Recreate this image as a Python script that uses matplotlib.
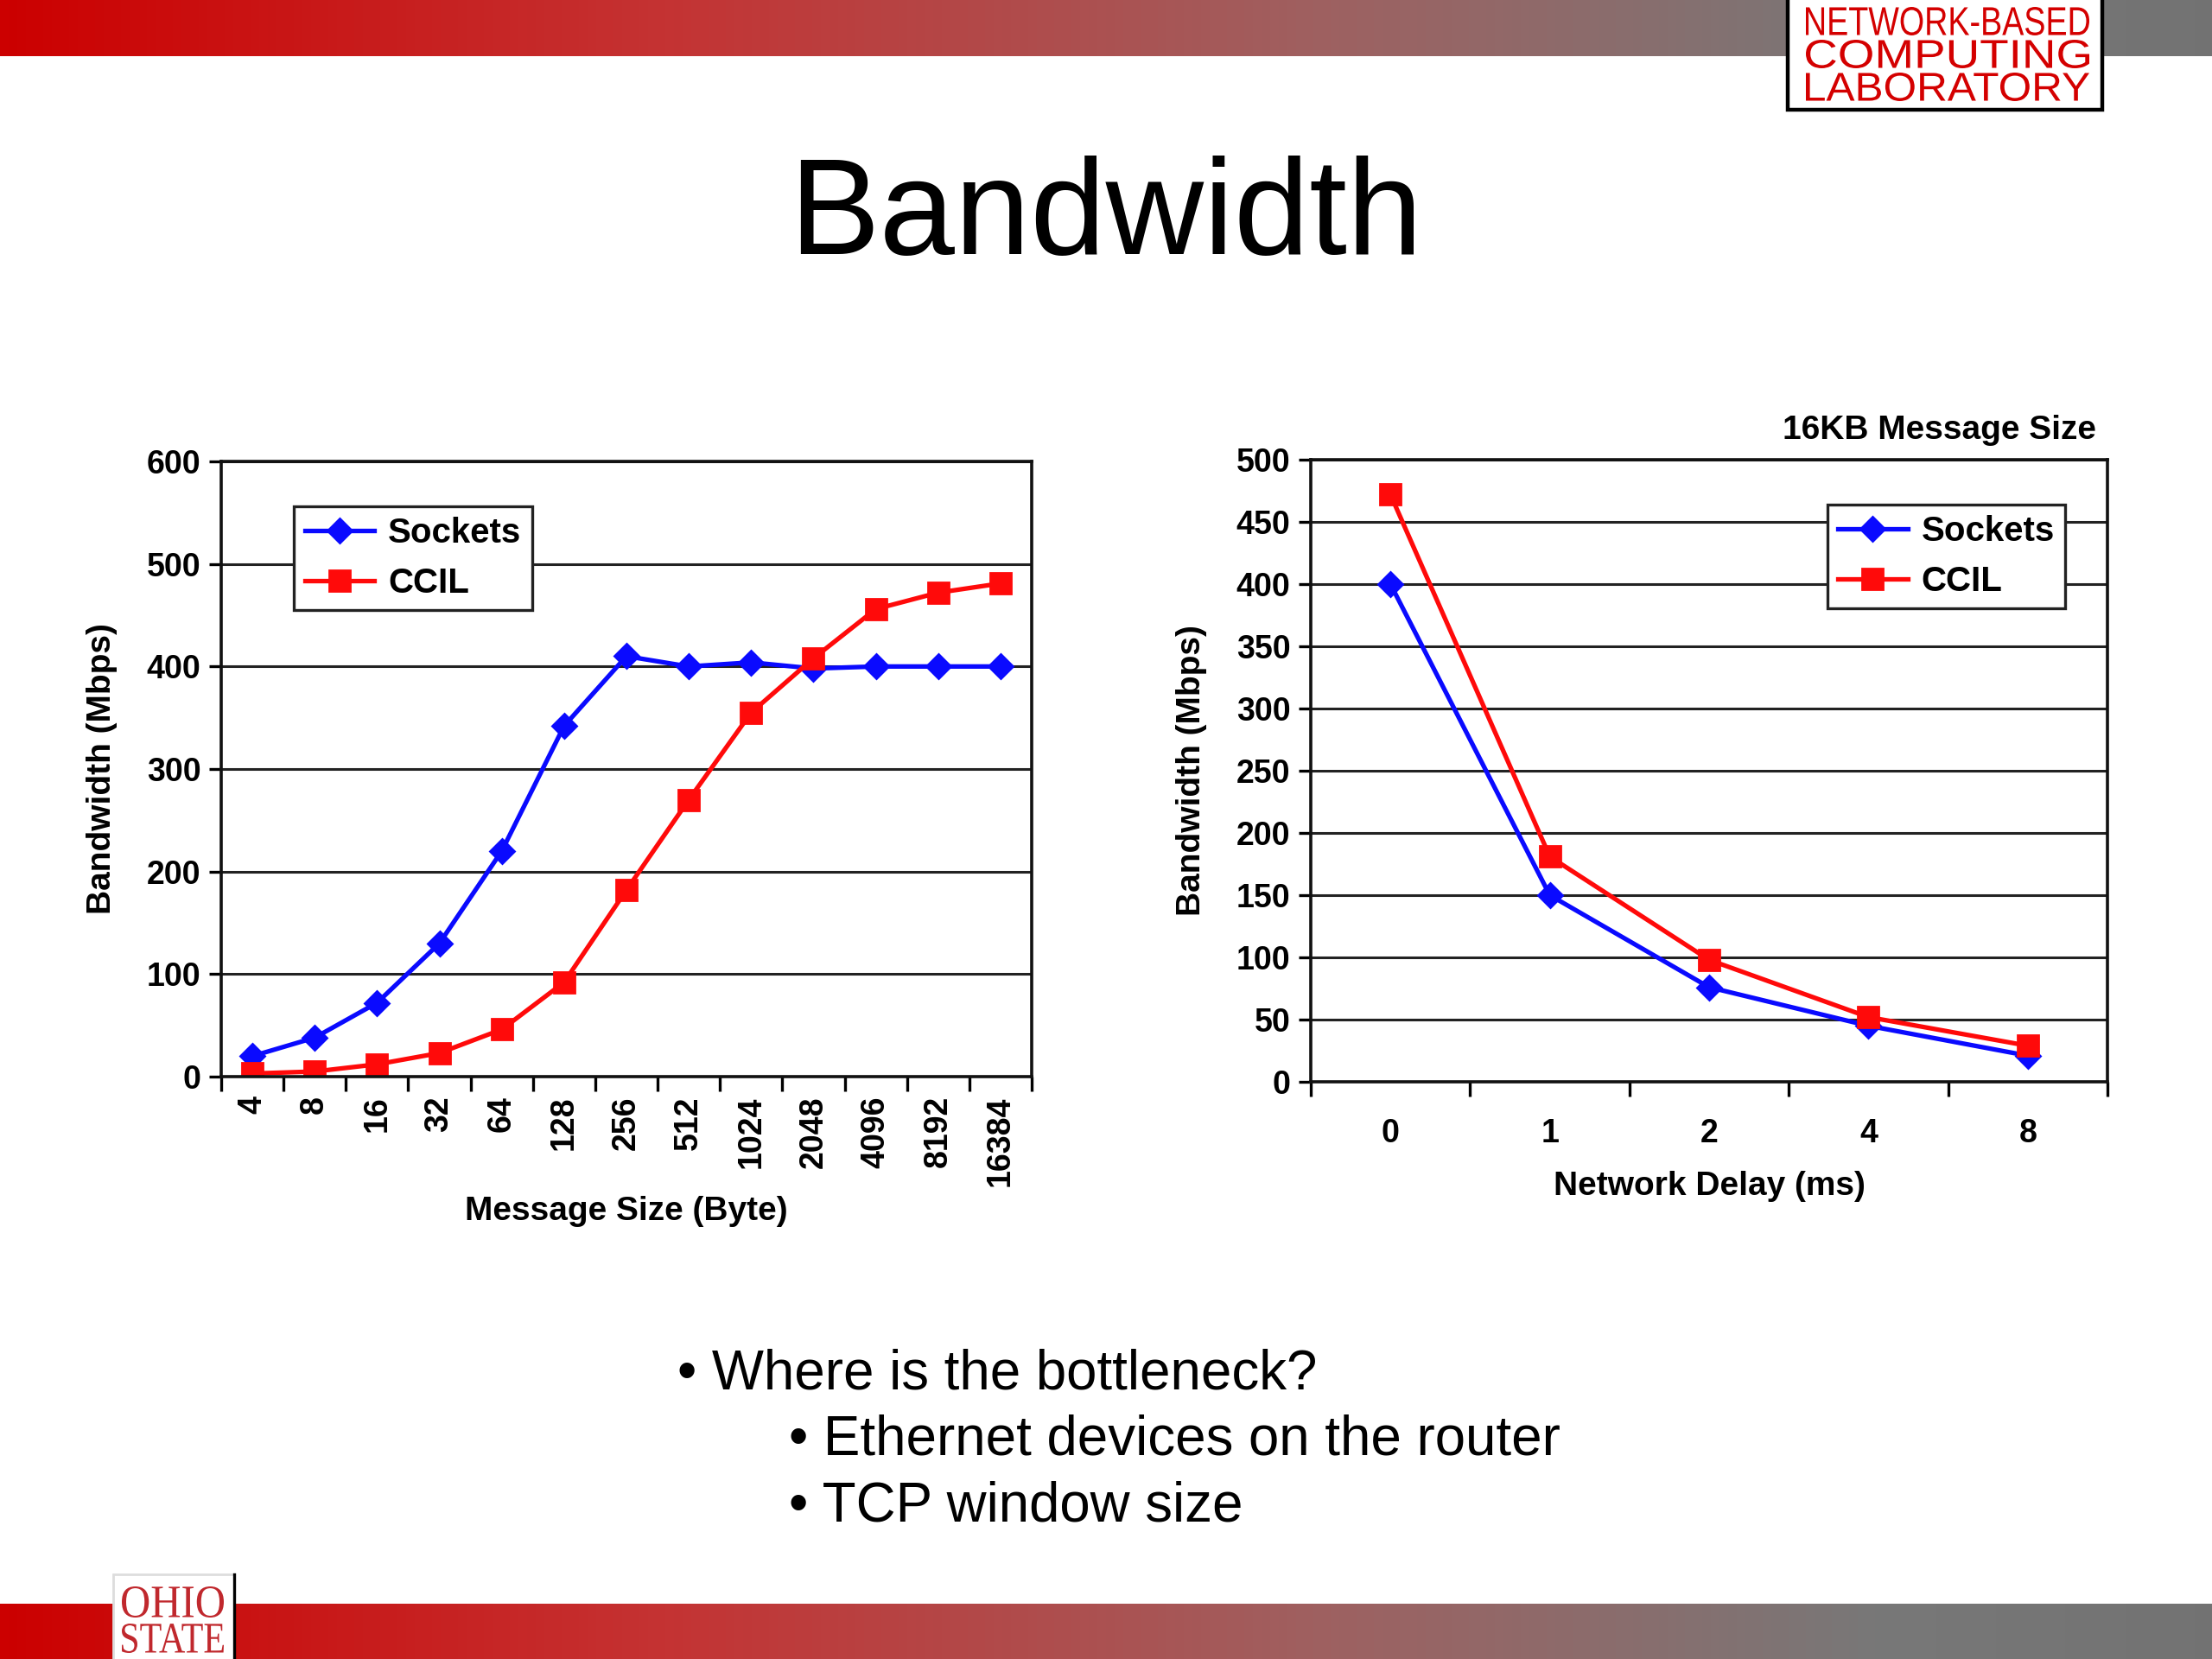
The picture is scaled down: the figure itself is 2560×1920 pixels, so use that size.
import numpy as np
import matplotlib
matplotlib.use("Agg")
import matplotlib.pyplot as plt
from matplotlib.colors import LinearSegmentedColormap
from matplotlib.patches import Rectangle, PathPatch
from matplotlib.textpath import TextPath
from matplotlib.font_manager import FontProperties
from matplotlib.transforms import Affine2D

plt.rcParams['font.family'] = ['Liberation Sans', 'DejaVu Sans']

# Data: left chart (bandwidth vs message size)
msg_sizes = ["4", "8", "16", "32", "64", "128", "256", "512", "1024", "2048", "4096", "8192", "16384"]
sockets_bw = [20, 38, 72, 130, 220, 342, 410, 400, 404, 398, 400, 400, 400]
ccil_bw = [3, 5, 12, 23, 46, 92, 182, 270, 355, 408, 456, 472, 481]

# Data: right chart (bandwidth vs network delay, 16KB messages)
delays = ["0", "1", "2", "4", "8"]
sockets_delay = [400, 150, 76, 45, 21]
ccil_delay = [472, 181, 98, 52, 29]

BLUE = "#0a0aff"
RED = "#ff0a0a"
W, H = 2560, 1920

fig = plt.figure(figsize=(12.8, 9.6), dpi=200)

# slide decorations: gradient bars
grad = LinearSegmentedColormap.from_list(
    "bar", [(0.0, (0.80, 0.0, 0.0)), (0.3, (0.77, 0.20, 0.20)),
            (0.6, (0.62, 0.38, 0.38)), (0.85, (0.47, 0.47, 0.47)), (1.0, (0.45, 0.45, 0.45))])
g = np.linspace(0, 1, 512).reshape(1, -1)
top = fig.add_axes([0, 1 - 65 / H, 1, 65 / H])
top.imshow(g, aspect="auto", cmap=grad)
top.axis("off")
bot = fig.add_axes([0, 0, 1, 64 / H])
bot.imshow(g, aspect="auto", cmap=grad)
bot.axis("off")

# overlay axes in pixel coords for the logos
deco = fig.add_axes([0, 0, 1, 1], zorder=5)
deco.set_xlim(0, W)
deco.set_ylim(H, 0)
deco.axis("off")


def fitted_text(ax, s, x0, y0, x1, y1, color, family):
    # draw text stretched into the box (x0, y0)-(x1, y1), pixel coords, y down
    tp = TextPath((0, 0), s, size=1, prop=FontProperties(family=family))
    ext = tp.get_extents()
    tr = (Affine2D().translate(-ext.x0, -ext.y0)
          .scale((x1 - x0) / ext.width, -(y1 - y0) / ext.height)
          .translate(x0, y1))
    ax.add_patch(PathPatch(tr.transform_path(tp), facecolor=color, edgecolor="none", zorder=7))


deco.add_patch(Rectangle((2069, -5), 364, 132, facecolor="white", edgecolor="black",
                         linewidth=1.6, zorder=6))
lab_lines = ["NETWORK-BASED", "COMPUTING", "LABORATORY"]
for i, line in enumerate(lab_lines):
    yt = 8 + i * 38
    fitted_text(deco, line, 2090, yt, 2418, yt + 33, "#d40000", "Liberation Sans")

deco.add_patch(Rectangle((131, 1822), 140, 110, facecolor="white", edgecolor="#dddddd",
                         linewidth=1, zorder=6))
deco.plot([271, 271], [1822, 1920], color="black", lw=1.2, zorder=6)
fitted_text(deco, "OHIO", 141, 1836, 259, 1872, "#c0282d", "Liberation Serif")
fitted_text(deco, "STATE", 141, 1879, 259, 1913, "#c0282d", "Liberation Serif")

fig.text(0.5, 1 - 253 / H, "Bandwidth", ha="center", va="center", fontsize=56.5)

# bullets
s = 2560 / 1568
fig.text(480 * s / W, 1 - 974 * s / H, "\u2022 Where is the bottleneck?",
         ha="left", va="center", fontsize=22.9)
fig.text(559 * s / W, 1 - 1021 * s / H, "\u2022 Ethernet devices on the router",
         ha="left", va="center", fontsize=22.9)
fig.text(559 * s / W, 1 - 1068 * s / H, "\u2022 TCP window size",
         ha="left", va="center", fontsize=22.9)


def style_axes(ax, n, ymax, ystep):
    ax.set_xlim(-0.5, n - 0.5)
    ax.set_ylim(0, ymax)
    ax.set_yticks(np.arange(0, ymax + 1, ystep))
    ax.yaxis.grid(True, color="#222222", linewidth=1.1)
    ax.set_axisbelow(True)
    ax.set_xticks(np.arange(-0.5, n, 1.0))
    ax.set_xticks(np.arange(n), minor=True)
    ax.tick_params(axis="x", which="major", length=6, width=1.2, labelbottom=False, direction="out")
    ax.tick_params(axis="x", which="minor", length=0, pad=8)
    ax.tick_params(axis="y", length=5, width=1.2, direction="out")
    for sp in ax.spines.values():
        sp.set_linewidth(1.3)
        sp.set_color("#111111")
    for lab in ax.get_yticklabels():
        lab.set_fontweight("bold")
        lab.set_fontsize(13.5)


leg_kw = dict(borderaxespad=0, fancybox=False, edgecolor="#222222", framealpha=1,
              prop={"weight": "bold", "size": 14.5}, handlelength=2.0, handletextpad=0.4,
              borderpad=0.3)

# left chart
ax1 = fig.add_axes([256 / W, 1 - 1246 / H, 938 / W, 712 / H])
x1 = np.arange(len(msg_sizes))
ax1.plot(x1, sockets_bw, color=BLUE, lw=1.9, marker="D", ms=7, label="Sockets")
ax1.plot(x1, ccil_bw, color=RED, lw=1.9, marker="s", ms=8.5, label="CCIL")
style_axes(ax1, len(msg_sizes), 600, 100)
ax1.set_xticklabels(msg_sizes, minor=True, rotation=90, fontsize=13.5, fontweight="bold")
ax1.set_ylabel("Bandwidth (Mbps)", fontsize=14, fontweight="bold", labelpad=12)
ax1.set_xlabel("Message Size (Byte)", fontsize=14, fontweight="bold", labelpad=4)
leg1 = ax1.legend(loc="upper left", bbox_to_anchor=(0.09, 0.927), **leg_kw)
leg1.get_frame().set_linewidth(1.2)

# right chart
ax2 = fig.add_axes([1517 / W, 1 - 1252 / H, 922 / W, 720 / H])
x2 = np.arange(len(delays))
ax2.plot(x2, sockets_delay, color=BLUE, lw=1.9, marker="D", ms=7, label="Sockets")
ax2.plot(x2, ccil_delay, color=RED, lw=1.9, marker="s", ms=8.5, label="CCIL")
style_axes(ax2, len(delays), 500, 50)
ax2.set_xticklabels(delays, minor=True, fontsize=13.5, fontweight="bold")
ax2.tick_params(axis="x", which="minor", pad=15)
ax2.set_ylabel("Bandwidth (Mbps)", fontsize=14, fontweight="bold", labelpad=12)
ax2.set_xlabel("Network Delay (ms)", fontsize=14, fontweight="bold", labelpad=9)
fig.text(2426 / W, 1 - 498 / H, "16KB Message Size", ha="right", va="center",
         fontsize=14, fontweight="bold")
leg2 = ax2.legend(loc="upper right", bbox_to_anchor=(0.947, 0.928), **leg_kw)
leg2.get_frame().set_linewidth(1.2)

fig.savefig("out.png", dpi=200)
